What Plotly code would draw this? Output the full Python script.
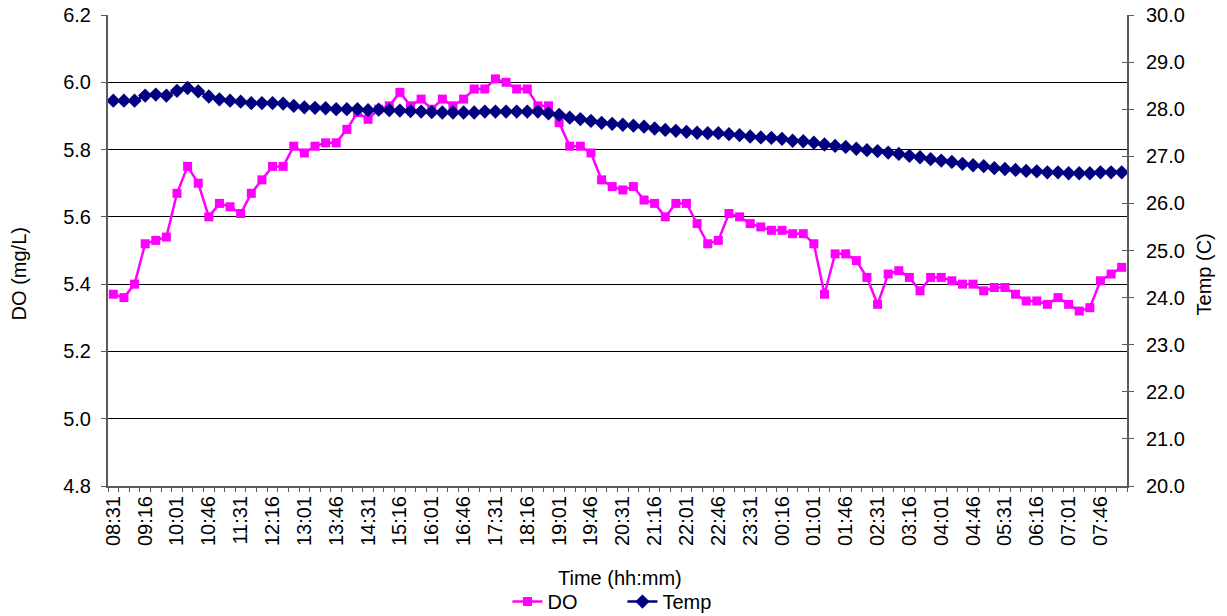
import plotly.graph_objects as go

times = ["08:31","08:46","09:01","09:16","09:31","09:46","10:01","10:16","10:31","10:46",
         "11:01","11:16","11:31","11:46","12:01","12:16","12:31","12:46","13:01","13:16",
         "13:31","13:46","14:01","14:16","14:31","14:46","15:01","15:16","15:31","15:46",
         "16:01","16:16","16:31","16:46","17:01","17:16","17:31","17:46","18:01","18:16",
         "18:31","18:46","19:01","19:16","19:31","19:46","20:01","20:16","20:31","20:46",
         "21:01","21:16","21:31","21:46","22:01","22:16","22:31","22:46","23:01","23:16",
         "23:31","23:46","00:01","00:16","00:31","00:46","01:01","01:16","01:31","01:46",
         "02:01","02:16","02:31","02:46","03:01","03:16","03:31","03:46","04:01","04:16",
         "04:31","04:46","05:01","05:16","05:31","05:46","06:01","06:16","06:31","06:46",
         "07:01","07:16","07:31","07:46","08:01","08:16"]

do_vals = [5.37, 5.36, 5.40, 5.52, 5.53, 5.54, 5.67, 5.75, 5.70, 5.60,
           5.64, 5.63, 5.61, 5.67, 5.71, 5.75, 5.75, 5.81, 5.79, 5.81,
           5.82, 5.82, 5.86, 5.91, 5.89, 5.92,
           5.93, 5.97, 5.93, 5.95, 5.92, 5.95, 5.93, 5.95, 5.98, 5.98,
           6.01, 6.00, 5.98, 5.98, 5.93, 5.93, 5.88, 5.81, 5.81, 5.79,
           5.71, 5.69, 5.68, 5.69, 5.65,
           5.64, 5.60, 5.64, 5.64, 5.58, 5.52, 5.53, 5.61, 5.60, 5.58,
           5.57, 5.56, 5.56, 5.55, 5.55, 5.52, 5.37, 5.49, 5.49, 5.47,
           5.42, 5.34, 5.43, 5.44, 5.42, 5.38,
           5.42, 5.42, 5.41, 5.40, 5.40, 5.38, 5.39, 5.39, 5.37, 5.35,
           5.35, 5.34, 5.36, 5.34, 5.32, 5.33, 5.41, 5.43, 5.45]

temp_vals = [28.18, 28.18, 28.18, 28.29, 28.31, 28.29, 28.39, 28.45, 28.38, 28.27,
             28.21, 28.18, 28.16, 28.13, 28.13, 28.13, 28.12, 28.07, 28.04, 28.03,
             28.02, 28.00, 28.00, 28.00, 27.98, 27.99,
             27.98, 27.97, 27.96, 27.95, 27.94, 27.93, 27.93, 27.93, 27.93, 27.95,
             27.95, 27.95, 27.95, 27.95, 27.95, 27.91, 27.88, 27.82, 27.79, 27.75,
             27.71, 27.69, 27.67, 27.65, 27.63,
             27.59, 27.56, 27.54, 27.52, 27.50, 27.49, 27.49, 27.47, 27.45, 27.42,
             27.40, 27.39, 27.37, 27.33, 27.32, 27.29, 27.25, 27.22, 27.20, 27.16,
             27.13, 27.11, 27.08, 27.05, 27.01, 26.98,
             26.94, 26.91, 26.88, 26.84, 26.81, 26.79, 26.75, 26.73, 26.71, 26.69,
             26.68, 26.66, 26.66, 26.64, 26.64, 26.64, 26.66, 26.66, 26.66]

pos = list(range(len(times)))
label_every = 3

FONT = "Liberation Sans, Arial, sans-serif"
FS = 20
AXC = "#5a5a5a"

fig = go.Figure()
fig.add_trace(go.Scatter(
    x=pos, y=do_vals, name="DO", mode="lines+markers", text=times,
    line=dict(color="#FF00FF", width=2.5),
    marker=dict(symbol="square", size=9, color="#FF00FF"),
    yaxis="y"))
fig.add_trace(go.Scatter(
    x=pos, y=temp_vals, name="Temp", mode="lines+markers", text=times,
    line=dict(color="#000080", width=2.5),
    marker=dict(symbol="diamond", size=11, color="#000080"),
    yaxis="y2"))
# invisible helper so the inside-tick overlay axis is drawn
fig.add_trace(go.Scatter(x=[pos[0]], y=[20], yaxis="y3", mode="markers",
                         marker=dict(opacity=0), showlegend=False, hoverinfo="skip"))

fig.update_layout(
    width=1227, height=616,
    margin=dict(l=108, r=100, t=15, b=130, autoexpand=False),
    paper_bgcolor="white", plot_bgcolor="white",
    font=dict(family=FONT, size=FS, color="black"),
    showlegend=True,
    legend=dict(orientation="h", x=0.392, xanchor="left",
                yref="container", y=0.055, yanchor="top",
                font=dict(size=FS), entrywidth=70, tracegroupgap=0),
    xaxis=dict(
        range=[-0.5, len(times) - 0.5], automargin=False,
        tickmode="array", tickvals=pos[::label_every], ticktext=times[::label_every],
        tickangle=-90, ticks="", showgrid=False, zeroline=False,
        showline=True, linecolor=AXC, linewidth=2,
        minor=dict(tickmode="linear", tick0=-0.5, dtick=1, ticks="outside",
                   ticklen=4, tickcolor=AXC, showgrid=False),
        tickfont=dict(size=FS),
    ),
    yaxis=dict(
        range=[4.8, 6.2], dtick=0.2, tick0=4.8, tickformat=".1f", automargin=False,
        ticks="outside", ticklen=5, tickcolor=AXC, tickwidth=1, ticklabelstandoff=6,
        showline=True, linecolor=AXC, linewidth=2,
        showgrid=True, gridcolor="black", gridwidth=1, zeroline=False,
        tickfont=dict(size=FS),
    ),
    yaxis2=dict(
        range=[20, 30], dtick=1, tick0=20, tickformat=".1f", automargin=False,
        overlaying="y", side="right", anchor="x",
        ticks="outside", ticklen=5, tickcolor=AXC, tickwidth=1, ticklabelstandoff=8,
        showline=True, linecolor=AXC, linewidth=2,
        showgrid=False, zeroline=False,
        tickfont=dict(size=FS),
    ),
    yaxis3=dict(
        range=[20, 30], dtick=1, tick0=20, automargin=False,
        overlaying="y", side="right", anchor="x",
        ticks="inside", ticklen=5, tickcolor=AXC, tickwidth=1,
        showticklabels=False, showline=False, showgrid=False, zeroline=False,
    ),
    annotations=[
        dict(text="Time (hh:mm)", xref="paper", yref="paper", x=0.502, y=-0.195,
             xanchor="center", yanchor="middle", showarrow=False, font=dict(size=FS)),
        dict(text="DO (mg/L)", xref="paper", yref="paper", x=-0.087, y=0.45,
             xanchor="center", yanchor="middle", textangle=-90, showarrow=False,
             font=dict(size=FS)),
        dict(text="Temp (C)", xref="paper", yref="paper", x=1.076, y=0.45,
             xanchor="center", yanchor="middle", textangle=-90, showarrow=False,
             font=dict(size=FS)),
    ],
)

fig.write_html("out.html")
